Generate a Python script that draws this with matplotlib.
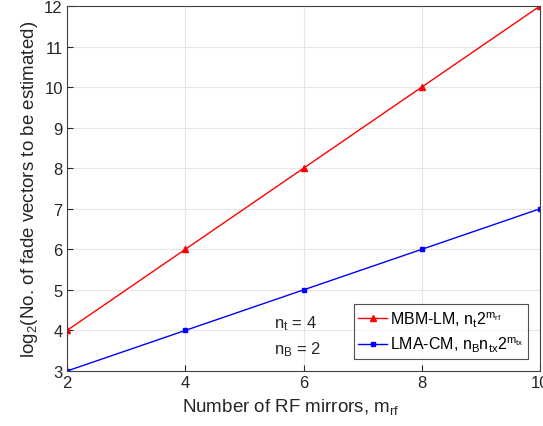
import matplotlib
matplotlib.use("Agg")
import matplotlib.pyplot as plt

plt.rcParams['font.family'] = ['Liberation Sans', 'DejaVu Sans']
plt.rcParams['mathtext.fontset'] = 'custom'
plt.rcParams['mathtext.rm'] = 'Liberation Sans'
plt.rcParams['mathtext.it'] = 'Liberation Sans'

m_rf = [2, 4, 6, 8, 10]
mbm_lm = [4, 6, 8, 10, 12]
lma_cm = [3, 4, 5, 6, 7]
xticks = [2, 4, 6, 8, 10]
yticks = [3, 4, 5, 6, 7, 8, 9, 10, 11, 12]

fig = plt.figure(figsize=(5.43, 4.27), dpi=100)
ax = fig.add_axes([0.1234, 0.1288, 0.8711, 0.8548])

ax.plot(m_rf, mbm_lm, color='red', marker='^', markersize=5, linewidth=1,
        label=r'MBM-LM, n$_\mathregular{t}$2$^{\mathregular{m}_{\mathregular{rf}}}$')
ax.plot(m_rf, lma_cm, color='blue', marker='s', markersize=3.5, linewidth=1,
        label=r'LMA-CM, n$_\mathregular{B}$n$_\mathregular{tx}$2$^{\mathregular{m}_{\mathregular{tx}}}$')

ax.set_xlim(2, 10)
ax.set_ylim(3, 12)
ax.set_xticks(xticks)
ax.set_yticks(yticks)
ax.grid(True, color='#e6e6e6', linewidth=0.8)
ax.set_axisbelow(True)
for s in ax.spines.values():
    s.set_color('#404040')
    s.set_linewidth(0.8)
ax.tick_params(direction='in', length=4, labelsize=12, colors='#262626', pad=3)

ax.set_xlabel(r'Number of RF mirrors, m$_\mathregular{rf}$', fontsize=13.5, color='#262626')
ax.xaxis.set_label_coords(0.474, -0.068, transform=ax.transAxes)
ax.xaxis.label.set_va('top')
ax.set_ylabel(r'log$_\mathregular{2}$(No. of fade vectors to be estimated)', fontsize=13.5, color='#262626', labelpad=3)

ax.text(5.5, 4.2, r'n$_\mathregular{t}$ = 4', fontsize=12, color='#262626', va='center')
ax.text(5.5, 3.55, r'n$_\mathregular{B}$ = 2', fontsize=12, color='#262626', va='center')

leg = ax.legend(loc='lower right', fontsize=11.5, frameon=True, fancybox=False,
                edgecolor='#262626', handlelength=1.8, handletextpad=0.15,
                borderaxespad=0.75, borderpad=0.3, labelspacing=0.4)
leg.get_frame().set_linewidth(0.8)

fig.savefig('out.png', dpi=100)
